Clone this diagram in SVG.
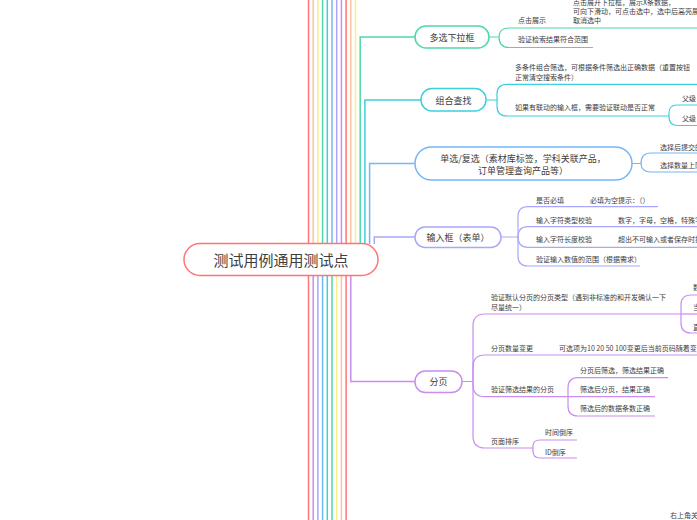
<svg xmlns="http://www.w3.org/2000/svg" width="697" height="520" viewBox="0 0 697 520">
<style>
.t{font-family:"Noto Sans CJK SC","Noto Sans",sans-serif;fill:#3d3d3d;dominant-baseline:central}
.s{font-size:7px}
.n{font-size:9px;text-anchor:middle}
.r{font-size:15px;text-anchor:middle}
.m{fill:none;stroke-width:1.5}
.c{fill:none;stroke-width:1.2}
.red{stroke:#ff7575}.pea{stroke:#ffc29e}.yel{stroke:#fbec8c}.gre{stroke:#4fd8a6}.cya{stroke:#3ccfdc}.blu{stroke:#74b6f7}.lav{stroke:#a9a7fb}.pur{stroke:#c98cef}
.box{fill:#fff;stroke-width:1.5}
</style>
<rect width="697" height="520" fill="#fff"/>
<g id="connectors">
<path class="m red" d="M308.5,0V244"/>
<path class="m pea" d="M313.2,0V244"/>
<path class="m yel" d="M317.9,0V244"/>
<path class="m gre" d="M322.6,0V244"/>
<path class="m cya" d="M327.3,0V244"/>
<path class="m blu" d="M332,0V244"/>
<path class="m lav" d="M336.7,0V244"/>
<path class="m pur" d="M341.4,0V244"/>
<path class="m red" d="M346.1,0V244"/>
<path class="m pea" d="M350.8,0V244"/>
<path class="m yel" d="M355.5,0V244"/>
<path class="m gre" d="M360.2,244V37H415"/>
<path class="m cya" d="M364.9,244V100H421"/>
<path class="m blu" d="M369.6,244V163.5H415"/>
<path class="m lav" d="M374.3,244V237H415"/>
<path class="m red" d="M308.5,275V520"/>
<path class="m pur" d="M313.2,275V520"/>
<path class="m lav" d="M317.9,275V520"/>
<path class="m blu" d="M322.6,275V520"/>
<path class="m cya" d="M327.3,275V520"/>
<path class="m gre" d="M332,275V520"/>
<path class="m yel" d="M336.7,275V520"/>
<path class="m pea" d="M341.4,275V520"/>
<path class="m red" d="M346.1,275V520"/>
<path class="m pur" d="M350.8,275V381.5H415"/>
<path class="c gre" d="M489,37H499Q499,28 509,28H697"/>
<path class="c gre" d="M499,37Q499,47.5 509,47.5H593"/>
<path class="c cya" d="M486,100H497V94Q497,84.3 507,84.3H697"/>
<path class="c cya" d="M497,100V106Q497,116 507,116H669"/>
<path class="c cya" d="M669,116V113Q669,105 677,105H697"/>
<path class="c cya" d="M669,116V117Q669,125.5 678,125.5H697"/>
<path class="c blu" d="M632,163.5H641Q641,153 651,153H697"/>
<path class="c blu" d="M641,163.5Q641,172 651,172H697"/>
<path class="c lav" d="M501,237H518V216.7Q518,206.7 528,206.7H658"/>
<path class="c lav" d="M518,237Q518,226.7 528,226.7H697"/>
<path class="c lav" d="M518,237Q518,247.3 528,247.3H697"/>
<path class="c lav" d="M518,237V256Q518,266 528,266H640"/>
<path class="c pur" d="M462,381.5H473V326Q473,314 485,314H681"/>
<path class="c pur" d="M681,314V305Q681,295 691,295H697"/>
<path class="c pur" d="M681,314H697"/>
<path class="c pur" d="M681,314V323Q681,333 691,333H697"/>
<path class="c pur" d="M473,381.5V367Q473,355 485,355H697"/>
<path class="c pur" d="M473,381.5V385Q473,396.7 485,396.7H568"/>
<path class="c pur" d="M568,396.7V388Q568,377.7 578,377.7H668"/>
<path class="c pur" d="M568,396.7H655"/>
<path class="c pur" d="M568,396.7V406Q568,416 578,416H655"/>
<path class="c pur" d="M473,381.5V436Q473,448 485,448H533"/>
<path class="c pur" d="M533,448V446Q533,440 540,440H577"/>
<path class="c pur" d="M533,448V451Q533,458 540,458H577"/>
</g>
<g id="root">
<rect class="box red" x="184" y="243.5" width="194" height="32" rx="16" stroke-width="2"/>
<text class="t r" x="281" y="259.5">测试用例通用测试点</text>
</g>
<g id="n-duoxuan">
<rect class="box gre" x="415" y="26" width="74" height="22" rx="11"/>
<text class="t n" x="452" y="37">多选下拉框</text>
<text class="t s" x="518" y="20">点击展示</text>
<text class="t s" x="573" y="1.5">点击展开下拉框，展示X条数据，</text>
<text class="t s" x="573" y="10.5">可向下滑动，可点击选中，选中后高亮展</text>
<text class="t s" x="573" y="19.5">取消选中</text>
<text class="t s" x="518" y="39">验证检索结果符合范围</text>
</g>
<g id="n-zuhe">
<rect class="box cya" x="421" y="88.5" width="65" height="22.5" rx="11"/>
<text class="t n" x="453.5" y="100">组合查找</text>
<text class="t s" x="515" y="67">多条件组合筛选，可根据条件筛选出正确数据（重置按钮</text>
<text class="t s" x="515" y="77">正常清空搜索条件）</text>
<text class="t s" x="515" y="107">如果有联动的输入框，需要验证联动是否正常</text>
<text class="t s" x="682" y="98">父级</text>
<text class="t s" x="682" y="117.5">父级</text>
</g>
<g id="n-danxuan">
<rect class="box blu" x="415" y="147" width="217" height="33" rx="16.5"/>
<text class="t n" x="523" y="158">单选/复选（素材库标签，学科关联产品，</text>
<text class="t n" x="523" y="170">订单管理查询产品等）</text>
<text class="t s" x="660" y="146.5">选择后提交的</text>
<text class="t s" x="660" y="165">选择数量上限</text>
</g>
<g id="n-shuru">
<rect class="box lav" x="415" y="227" width="86" height="20.5" rx="10"/>
<text class="t n" x="458" y="237">输入框（表单）</text>
<text class="t s" x="536" y="199.5">是否必填</text>
<text class="t s" x="590" y="199.5">必填为空提示：（）</text>
<text class="t s" x="536" y="219.5">输入字符类型校验</text>
<text class="t s" x="618" y="219.5">数字，字母，空格，特殊字</text>
<text class="t s" x="536" y="239">输入字符长度校验</text>
<text class="t s" x="618" y="239">超出不可输入或者保存时提</text>
<text class="t s" x="536" y="259">验证输入数值的范围（根据需求）</text>
</g>
<g id="n-fenye">
<rect class="box pur" x="415" y="371" width="47" height="21.5" rx="10.5"/>
<text class="t n" x="438.5" y="381.5">分页</text>
<text class="t s" x="491" y="297">验证默认分页的分页类型（遇到非标准的和开发确认一下</text>
<text class="t s" x="491" y="307">尽量统一）</text>
<text class="t s" x="693" y="287">数</text>
<text class="t s" x="693" y="307">当</text>
<text class="t s" x="693" y="327">直</text>
<text class="t s" x="491" y="348">分页数量变更</text>
<text class="t s" x="559" y="348">可选项为10 20 50 100变更后当前页码随着变</text>
<text class="t s" x="491" y="388.5">验证筛选结果的分页</text>
<text class="t s" x="580" y="370">分页后筛选，筛选结果正确</text>
<text class="t s" x="580" y="388.5">筛选后分页，结果正确</text>
<text class="t s" x="580" y="408">筛选后的数据条数正确</text>
<text class="t s" x="491" y="441">页面排序</text>
<text class="t s" x="545" y="431.5">时间倒序</text>
<text class="t s" x="545" y="451.5">ID倒序</text>
</g>
<g id="n-corner">
<text class="t s" x="670" y="514.5">右上角关</text>
</g>
</svg>
